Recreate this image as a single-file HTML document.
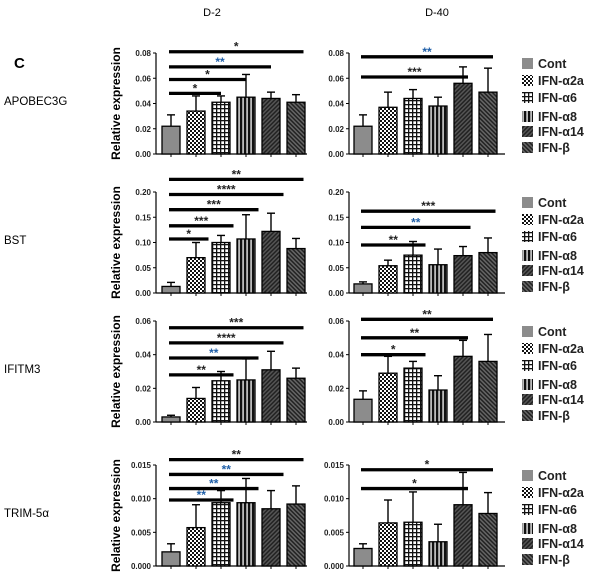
<!DOCTYPE html>
<html><head><meta charset="utf-8">
<style>
html,body{margin:0;padding:0;background:#fff;}
svg{display:block;font-family:"Liberation Sans",sans-serif;}
</style></head>
<body>
<svg id="fig" width="600" height="578" viewBox="0 0 600 578">
<defs>
<pattern id="p-cont" width="4" height="4" patternUnits="userSpaceOnUse"><rect width="4" height="4" fill="#8c8c8c"/></pattern>
<pattern id="p-a2a" width="4" height="4" patternUnits="userSpaceOnUse"><rect width="4" height="4" fill="#fff"/><rect width="2" height="2" fill="#111"/><rect x="2" y="2" width="2" height="2" fill="#111"/></pattern>
<pattern id="p-a6" width="4" height="4" patternUnits="userSpaceOnUse"><rect width="4" height="4" fill="#fff"/><rect width="4" height="1.3" fill="#111"/><rect width="1.3" height="4" fill="#111"/></pattern>
<pattern id="p-a8" width="4" height="4" patternUnits="userSpaceOnUse"><rect width="4" height="4" fill="#bbb"/><rect width="2.2" height="4" fill="#111"/></pattern>
<pattern id="p-a14" width="3" height="3" patternUnits="userSpaceOnUse" patternTransform="rotate(45)"><rect width="3" height="3" fill="#555"/><rect width="1.5" height="3" fill="#222"/></pattern>
<pattern id="p-b" width="3" height="3" patternUnits="userSpaceOnUse" patternTransform="rotate(-45)"><rect width="3" height="3" fill="#666"/><rect width="1.5" height="3" fill="#222"/></pattern>
</defs>
<text x="14" y="68" font-size="15" font-weight="bold">C</text>
<text x="212" y="16" font-size="11" text-anchor="middle">D-2</text>
<text x="437" y="16" font-size="11" text-anchor="middle">D-40</text>
</svg>
<script>
const categories = ["Cont","IFN-α2a","IFN-α6","IFN-α8","IFN-α14","IFN-β"];
const genes = ["APOBEC3G","BST","IFITM3","TRIM-5α"];
const yMaxes = [0.08,0.20,0.06,0.015];
const yStepTicks = [0.02,0.05,0.02,0.005];
const tickDecimals = [2,2,2,3];
const d2Values = [[0.022,0.034,0.041,0.045,0.044,0.041],[0.013,0.070,0.100,0.107,0.122,0.088],[0.003,0.014,0.0245,0.025,0.031,0.026],[0.0021,0.0057,0.0094,0.0094,0.0085,0.0092]];
const d2Errors = [[0.009,0.012,0.005,0.018,0.005,0.006],[0.008,0.030,0.014,0.048,0.036,0.020],[0.001,0.0065,0.0055,0.0125,0.011,0.006],[0.0012,0.0034,0.0018,0.0036,0.0027,0.0027]];
const d40Values = [[0.022,0.037,0.044,0.038,0.056,0.049],[0.018,0.054,0.075,0.056,0.074,0.080],[0.0135,0.029,0.032,0.019,0.039,0.036],[0.0026,0.0064,0.0065,0.0036,0.0091,0.0078]];
const d40Errors = [[0.009,0.012,0.007,0.007,0.013,0.019],[0.004,0.011,0.027,0.031,0.018,0.029],[0.005,0.010,0.004,0.0085,0.0095,0.016],[0.0007,0.0034,0.0045,0.0026,0.0048,0.0031]];
const d2Sig = [[[0.048,2,"*",0],[0.059,3,"*",0],[0.069,4,"**",1],[0.081,5.3,"*",0]],
  [[0.107,1.5,"*",0],[0.133,2.5,"***",0],[0.165,3.5,"***",0],[0.195,4.5,"****",0],[0.225,5.3,"**",0]],
  [[0.028,2.5,"**",0],[0.038,3.5,"**",1],[0.047,4.5,"****",0],[0.056,5.3,"***",0]],
  [[0.0098,2.5,"**",1],[0.0115,3.5,"**",1],[0.0136,4.5,"**",1],[0.0158,5.3,"**",0]]];
const d40Sig = [[[0.061,4.2,"***",0],[0.077,5.2,"**",1]],
  [[0.095,2.5,"**",0],[0.130,4.3,"**",1],[0.162,5.3,"***",0]],
  [[0.040,2.5,"*",0],[0.050,4.2,"**",0],[0.061,5.2,"**",0]],
  [[0.0115,4.2,"*",0],[0.0143,5.2,"*",0]]];
const patterns = ["p-cont","p-a2a","p-a6","p-a8","p-a14","p-b"];
const rowTops = [53,192,321,465];
const rowH = 101;
const NS = "http://www.w3.org/2000/svg";
const svg = document.getElementById("fig");
function mk(tag, attrs, parent){const e=document.createElementNS(NS,tag);for(const k in attrs)e.setAttribute(k,attrs[k]);(parent||svg).appendChild(e);return e;}
const panels=[{axisX:156,firstX:162,endX:307,vals:d2Values,errs:d2Errors,sig:d2Sig,name:"d2"},{axisX:349,firstX:354,endX:505,vals:d40Values,errs:d40Errors,sig:d40Sig,name:"d40"}];
const step=25, bw=18;
genes.forEach((g,r)=>{
  const top=rowTops[r], bot=top+rowH, ymax=yMaxes[r];
  const rl=mk("text",{x:4,y:top+52,"font-size":11.5});rl.textContent=g;
  
  
  panels.forEach((p,pi)=>{
    const y=v=>bot-(v/ymax)*rowH;
    const x=i=>p.firstX+i*step+bw/2;
    const grp=mk("g",{});
    
    
    if(pi===0){const t=mk("text",{x:0,y:0,"font-size":12,"font-weight":"bold","text-anchor":"middle",transform:`translate(${p.axisX-36},${top+rowH/2}) rotate(-90)`},grp);t.textContent="Relative expression";
      
      }
    mk("line",{x1:p.axisX,y1:top,x2:p.axisX,y2:bot,stroke:"#000","stroke-width":1.2},grp);
    mk("line",{x1:p.axisX,y1:bot,x2:p.endX,y2:bot,stroke:"#000","stroke-width":1.2},grp);
    for(let v=0;v<=ymax+1e-9;v+=yStepTicks[r]){
      mk("line",{x1:p.axisX-3,y1:y(v),x2:p.axisX,y2:y(v),stroke:"#000"},grp);
      const t=mk("text",{x:p.axisX-5,y:y(v)+3,"font-size":8,"font-weight":"bold","text-anchor":"end",fill:"#222"},grp);
      t.textContent=v.toFixed(tickDecimals[r]);
      
      
    }
    categories.forEach((c,i)=>{
      const v=p.vals[r][i], e=p.errs[r][i];
      mk("line",{x1:x(i),y1:y(v+e),x2:x(i),y2:y(v),stroke:"#000","stroke-width":1.4},grp);
      mk("line",{x1:x(i)-4,y1:y(v+e),x2:x(i)+4,y2:y(v+e),stroke:"#000","stroke-width":1.4},grp);
      const b=mk("rect",{x:x(i)-bw/2,y:y(v),width:bw,height:bot-y(v),fill:`url(#${patterns[i]})`,stroke:"#000","stroke-width":1.3},grp);
      
      
      mk("line",{x1:x(i),y1:bot,x2:x(i),y2:bot+3,stroke:"#000"},grp);
    });
    p.sig[r].forEach(s=>{
      const x1=x(0)-2,x2=x(s[1]);
      const l=mk("line",{x1:x1,y1:y(s[0]),x2:x2,y2:y(s[0]),stroke:"#000","stroke-width":3.3},grp);
      
      
      const t=mk("text",{x:(x1+x2)/2,y:y(s[0])-1,"font-size":12,"font-weight":"bold","text-anchor":"middle",fill:s[3]?"#1f5fa8":"#222"},grp);
      t.textContent=s[2];
      
      
    });
  });
  const offs=[10,27,44,63,78,94];
  categories.forEach((c,i)=>{
    const g2=mk("g",{});
    
    
    mk("rect",{x:522,y:top+offs[i]-5,width:11,height:11,fill:`url(#${patterns[i]})`},g2);
    const t=mk("text",{x:538,y:top+offs[i]+5,"font-size":12.5,"font-weight":"bold",fill:"#222"},g2);
    t.textContent=c;
  });
});
</script>
</body></html>
